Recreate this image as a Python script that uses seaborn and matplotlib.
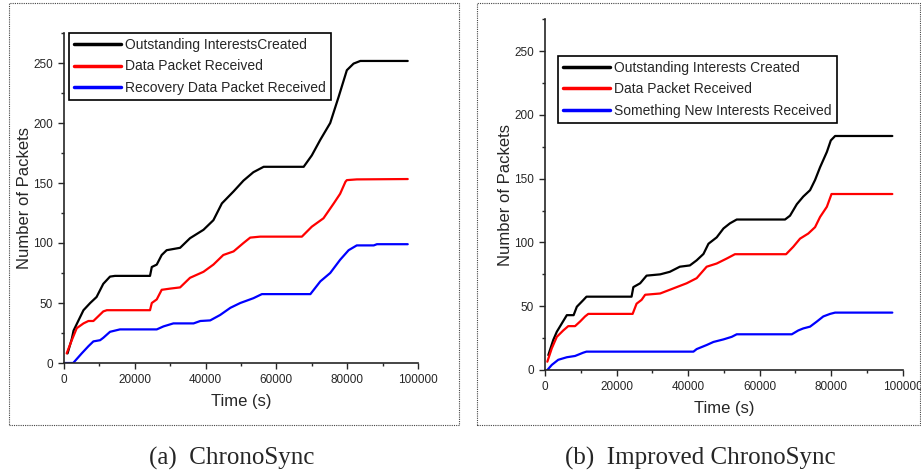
"""ChronoSync vs improved ChronoSync: cumulative packet counts over time."""

import matplotlib.pyplot as plt
import matplotlib.patches as mpatches
import matplotlib.ticker as mticker
import pandas as pd
import seaborn as sns

# ---- data (time in s, packet counts) ----
a_out_t = [1000, 2200, 2700, 5500, 7400, 9200, 11100, 13000, 14400, 24300, 24800, 26200,
           27600, 29000, 32800, 35600, 39400, 42200, 44600, 47900, 50700, 53500, 56400,
           67700, 70000, 72400, 75200, 77600, 79900, 81800, 83700, 97100]
a_out_v = [8, 20, 27, 44, 50, 55, 66, 72, 72.6, 72.6, 80, 82,
           90, 94, 96, 104, 111, 119, 133, 143, 152, 159, 163.5,
           163.5, 173, 186, 200, 222, 244, 249.5, 251.7, 251.7]

a_data_t = [750, 2200, 3600, 5500, 6900, 8300, 9700, 11100, 12100, 24300, 24800, 26200,
            27600, 30000, 32800, 35600, 39400, 42200, 45000, 47900, 50700, 52600, 55400,
            67200, 70000, 73300, 76200, 78000, 79500, 79900, 82700, 97100]
a_data_v = [8, 19, 29, 33, 35, 35, 39, 43, 44, 44, 50, 53,
            61, 62, 63, 71, 76, 82, 90, 93, 100, 104.5, 105.3,
            105.3, 113.6, 120.6, 133, 141, 151, 152.4, 153, 153.3]

a_rec_t = [300, 2600, 5000, 6900, 8300, 10200, 11100, 13000, 15800, 26200, 28100, 30900,
           36600, 38500, 41300, 44100, 47000, 49800, 53500, 55900, 69600, 72400, 75200,
           78000, 80400, 82700, 87500, 88400, 97100]
a_rec_v = [0, 0, 8, 14, 18, 19, 21, 26, 28, 28, 30.5, 33,
           33, 35, 35.5, 40, 46, 50, 54, 57.4, 57.4, 68, 75,
           86, 94, 98, 98, 99, 99]

b_out_t = [930, 2300, 3300, 4700, 6100, 8000, 8900, 10700, 11600, 24200, 24700, 26600,
           28400, 32200, 34900, 37700, 40500, 42400, 44300, 45700, 48000, 49900, 51700,
           53600, 67100, 68500, 70400, 72200, 74100, 75500, 76900, 78800, 79900, 81100, 97100]
b_out_v = [11.7, 23.5, 30, 36.5, 43, 43, 49.6, 54.8, 57.5, 57.5, 65, 68,
           74, 75, 77, 81, 82, 86, 91, 99, 104, 111, 115,
           118, 118, 121, 130, 136, 141, 149, 159, 171, 180, 183.5, 183.5]

b_data_t = [650, 1900, 3300, 5100, 6500, 8400, 9800, 11200, 12100, 24500, 25600, 27000,
            28000, 32200, 35900, 39600, 42400, 45200, 48000, 50800, 53100, 67400, 69400,
            71300, 73600, 75500, 76900, 78800, 80100, 97100]
b_data_v = [6.5, 17, 26, 31, 34.4, 34.4, 38, 42, 44, 44, 52, 55,
            59, 60, 64, 68, 72, 81, 83.5, 87.4, 90.8, 90.8, 96.6,
            103, 107, 112, 120, 128, 138, 138]

b_new_t = [650, 1900, 3700, 6100, 8400, 10700, 11600, 41500, 42400, 45200, 47100, 49900,
           52200, 53600, 69000, 70800, 72200, 74100, 76000, 77800, 79700, 81100, 97100]
b_new_v = [0, 4, 8, 10, 11, 13.6, 14.4, 14.4, 16.4, 19.6, 22, 24,
           26, 28, 28, 31, 32.6, 34, 38, 42, 44, 45, 45]

a_labels = ["Outstanding InterestsCreated", "Data Packet Received",
            "Recovery Data Packet Received"]
b_labels = ["Outstanding Interests Created", "Data Packet Received",
            "Something New Interests Received"]
captions = ["(a)  ChronoSync", "(b)  Improved ChronoSync"]
colors = ["#000000", "#ff0000", "#0000ff"]

x_ticks = [0, 20000, 40000, 60000, 80000, 100000]
y_ticks = [0, 50, 100, 150, 200, 250]

SANS = ["Liberation Sans", "DejaVu Sans"]
SERIF = ["Liberation Serif", "DejaVu Serif"]


def make_frame(series, labels):
    """Long-form table for seaborn."""
    parts = []
    for (t, v), lab in zip(series, labels):
        parts.append(pd.DataFrame({"time": t, "packets": v, "series": lab}))
    return pd.concat(parts, ignore_index=True)


def draw_panel(ax, df, labels, legend_anchor):
    sns.lineplot(data=df, x="time", y="packets", hue="series", hue_order=labels,
                 palette=dict(zip(labels, colors)), estimator=None, sort=False,
                 linewidth=1.6, ax=ax)
    ax.set_xlim(0, 100000)
    ax.set_ylim(0, 275)
    ax.set_xticks(x_ticks)
    ax.set_xticklabels([str(x) for x in x_ticks])
    ax.set_yticks(y_ticks)
    ax.xaxis.set_minor_locator(mticker.MultipleLocator(10000))
    ax.yaxis.set_minor_locator(mticker.MultipleLocator(25))
    ax.tick_params(which="major", direction="out", length=4, width=1,
                   labelsize=8.5, pad=4)
    ax.tick_params(which="minor", direction="out", length=2.5, width=1)
    sns.despine(ax=ax)
    for sp in ("left", "bottom"):
        ax.spines[sp].set_linewidth(1.2)
    ax.set_xlabel("Time (s)", fontsize=12, labelpad=6)
    ax.set_ylabel("Number of Packets", fontsize=12, labelpad=0.5)

    handles, _ = ax.get_legend_handles_labels()
    leg = ax.legend(handles, labels, loc="upper left", bbox_to_anchor=legend_anchor,
                    frameon=True, fancybox=False, framealpha=1, edgecolor="black",
                    prop={"size": 10}, handlelength=3.4,
                    handletextpad=0.3, borderpad=0.35, labelspacing=0.55,
                    borderaxespad=0)
    leg.get_frame().set_linewidth(1.2)
    for h in leg.get_lines():
        h.set_linewidth(2.5)


def main() -> None:
    sns.set_style("ticks")
    plt.rcParams["font.family"] = SANS

    fig = plt.figure(figsize=(9.21, 4.72), dpi=100)
    W, H = 921, 472

    # dotted frames round each panel
    for x0, x1 in ((9, 459), (477, 920)):
        fig.patches.append(mpatches.Rectangle(
            (x0 / W, 1 - 425 / H), (x1 - x0) / W, (425 - 3) / H,
            transform=fig.transFigure, fill=False, linestyle=(0, (1, 1)),
            linewidth=0.8, edgecolor="#444444"))

    ax_a = fig.add_axes([64 / W, 1 - 363 / H, 354 / W, 330 / H])
    ax_b = fig.add_axes([545 / W, 1 - 370 / H, 357.7 / W, 350.7 / H])

    df_a = make_frame([(a_out_t, a_out_v), (a_data_t, a_data_v), (a_rec_t, a_rec_v)],
                      a_labels)
    df_b = make_frame([(b_out_t, b_out_v), (b_data_t, b_data_v), (b_new_t, b_new_v)],
                      b_labels)

    draw_panel(ax_a, df_a, a_labels, (5 / 354, 1.0))
    draw_panel(ax_b, df_b, b_labels, (13 / 357.7, 1 - 36.4 / 350.7))

    fig.text(232 / W, 1 - 458 / H, captions[0], ha="center", va="center",
             family=SERIF, fontsize=18)
    fig.text(700 / W, 1 - 458 / H, captions[1], ha="center", va="center",
             family=SERIF, fontsize=18)

    fig.savefig("out.png", dpi=100)
    plt.close(fig)


if __name__ == "__main__":
    main()
